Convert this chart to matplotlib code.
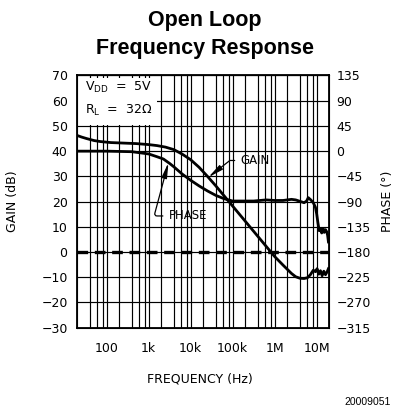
import numpy as np
import matplotlib.pyplot as plt
from matplotlib.patches import Rectangle

# open loop gain (dB) against log10 of frequency (Hz)
gain_logf = [1.30, 1.40, 1.52, 1.70, 1.85, 2.10, 2.40, 2.70, 3.00, 3.20, 3.40,
             3.60, 3.80, 4.00, 4.20, 4.40, 4.60, 4.80, 5.00, 5.20, 5.40, 5.60,
             5.80, 5.91, 6.00, 6.20, 6.40, 6.50, 6.60, 6.70, 6.78, 6.85, 6.92,
             6.97, 7.01, 7.05, 7.09, 7.13, 7.17, 7.21, 7.25, 7.28]
gain_db = [46.2, 45.6, 45.0, 44.2, 43.8, 43.4, 43.2, 43.0, 42.6, 42.2, 41.6,
           40.6, 38.8, 36.6, 33.6, 30.0, 26.2, 22.2, 18.2, 14.2, 10.2, 6.2,
           2.2, 0.0, -1.8, -5.2, -8.5, -9.8, -10.4, -10.5, -10.2, -9.0, -7.2,
           -7.8, -6.6, -8.8, -7.4, -9.4, -7.6, -9.0, -7.8, -6.6]

# open loop phase (degrees) against log10 of frequency (Hz)
phase_logf = [1.30, 2.00, 2.60, 3.00, 3.20, 3.35, 3.50, 3.60, 3.80, 4.00, 4.20,
              4.40, 4.60, 4.80, 5.00, 5.20, 5.50, 5.80, 6.00, 6.20, 6.40, 6.50,
              6.62, 6.70, 6.76, 6.80, 6.86, 6.92, 6.97, 7.00, 7.03, 7.06, 7.09,
              7.12, 7.15, 7.18, 7.21, 7.24, 7.26, 7.28]
phase_deg = [0, 0, -1, -5, -10, -14, -22, -28, -41, -52, -62,
             -71, -79, -85, -89, -89, -89, -87, -88, -88, -86, -87,
             -90, -92, -89, -83, -87, -92, -100, -112, -128, -142, -139,
             -146, -138, -145, -140, -144, -150, -162]

freq_ticks = [1e2, 1e3, 1e4, 1e5, 1e6, 1e7]
freq_labels = ['100', '1k', '10k', '100k', '1M', '10M']
gain_ticks = list(range(-30, 71, 10))
phase_ticks = list(range(-315, 136, 45))

def minus(v):
    return str(v).replace('-', '\u2212')

fig = plt.figure(figsize=(4.0, 4.15), dpi=100)
ax = fig.add_axes([0.1933, 0.2104, 0.63, 0.6077])

f_gain = 10 ** np.array(gain_logf)
f_phase = 10 ** np.array(phase_logf)

ax.set_xscale('log')
ax.set_xlim(20, 2e7)
ax.set_ylim(-30, 70)

# vertical grid at 2, 4, 6, 8, 10 of each decade
grid_x = [m * 10 ** n for n in range(1, 7) for m in (2, 4, 6, 8)]
grid_x = [g for g in grid_x if 20 < g < 2e7]
ax.set_xticks(freq_ticks)
ax.set_xticklabels(freq_labels)
ax.set_xticks(grid_x, minor=True)
ax.xaxis.set_minor_formatter(plt.NullFormatter())
ax.set_yticks(gain_ticks)
ax.set_yticklabels([minus(v) for v in gain_ticks])
ax.grid(which='both', color='black', linewidth=0.85)
ax.tick_params(which='both', length=0)
ax.tick_params(axis='x', pad=10, labelsize=9)
ax.tick_params(axis='y', pad=7, labelsize=9)
for s in ax.spines.values():
    s.set_linewidth(1.3)

# 0 dB reference
ax.axhline(0, color='black', linewidth=2.4, linestyle=(0, (3.2, 2.0)), zorder=3)

ax.plot(f_gain, gain_db, color='black', linewidth=2.0, zorder=4)

ax2 = ax.twinx()
ax2.set_ylim(-315, 135)
ax2.set_yticks(phase_ticks)
ax2.set_yticklabels([minus(v) for v in phase_ticks])
ax2.tick_params(length=0, pad=5, labelsize=9)
ax2.plot(f_phase, phase_deg, color='black', linewidth=2.0, zorder=4)

# conditions box in upper left
ax.add_patch(Rectangle((20, 50.4), 10 ** 3.19 - 20, 18.6, facecolor='white',
                       edgecolor='none', zorder=2))
ax.text(0.03, 0.952, r'V$_{\mathregular{DD}}$  =  5V', transform=ax.transAxes,
        ha='left', va='center', fontsize=9, zorder=5)
ax.text(0.03, 0.862, r'R$_{\mathregular{L}}$  =  32$\mathregular{\Omega}$',
        transform=ax.transAxes, ha='left', va='center', fontsize=9, zorder=5)

arrow = dict(arrowstyle='-|>,head_length=0.9,head_width=0.16', color='black',
             lw=0.9, mutation_scale=10, shrinkA=2, shrinkB=0, relpos=(0, 0.5))

tip_g = 10 ** 4.42
ax.annotate('GAIN', xy=(tip_g, np.interp(4.42, gain_logf, gain_db)),
            xytext=(10 ** 5.18, 36.3), ha='left', va='center', fontsize=8.5,
            arrowprops=dict(arrow, connectionstyle='angle,angleA=0,angleB=38,rad=0'),
            zorder=5)

tip_p = 10 ** 3.47
ax2.annotate('PHASE', xy=(tip_p, np.interp(3.47, phase_logf, phase_deg)),
             xytext=(10 ** 3.47, -180 + 14.3 * 4.5), ha='left', va='center',
             fontsize=8.5,
             arrowprops=dict(arrow, connectionstyle='angle,angleA=180,angleB=75,rad=3'),
             zorder=5)

fig.text(0.512, 0.950, 'Open Loop', ha='center', va='center', fontsize=15.5,
         fontweight='bold', family='Liberation Sans')
fig.text(0.512, 0.884, 'Frequency Response', ha='center', va='center',
         fontsize=15.5, fontweight='bold', family='Liberation Sans')
fig.text(0.032, 1 - 201 / 415, 'GAIN (dB)', rotation=90, ha='center',
         va='center', fontsize=9)
fig.text(0.9675, 1 - 201 / 415, 'PHASE (\u00b0)', rotation=90, ha='center',
         va='center', fontsize=9)
fig.text(0.5, 1 - 379 / 415, 'FREQUENCY (Hz)', ha='center', va='center',
         fontsize=9)
fig.text(0.978, 1 - 402 / 415, '20009051', ha='right', va='center',
         fontsize=7.5, family='Liberation Sans')

fig.savefig('out.png', dpi=100)
